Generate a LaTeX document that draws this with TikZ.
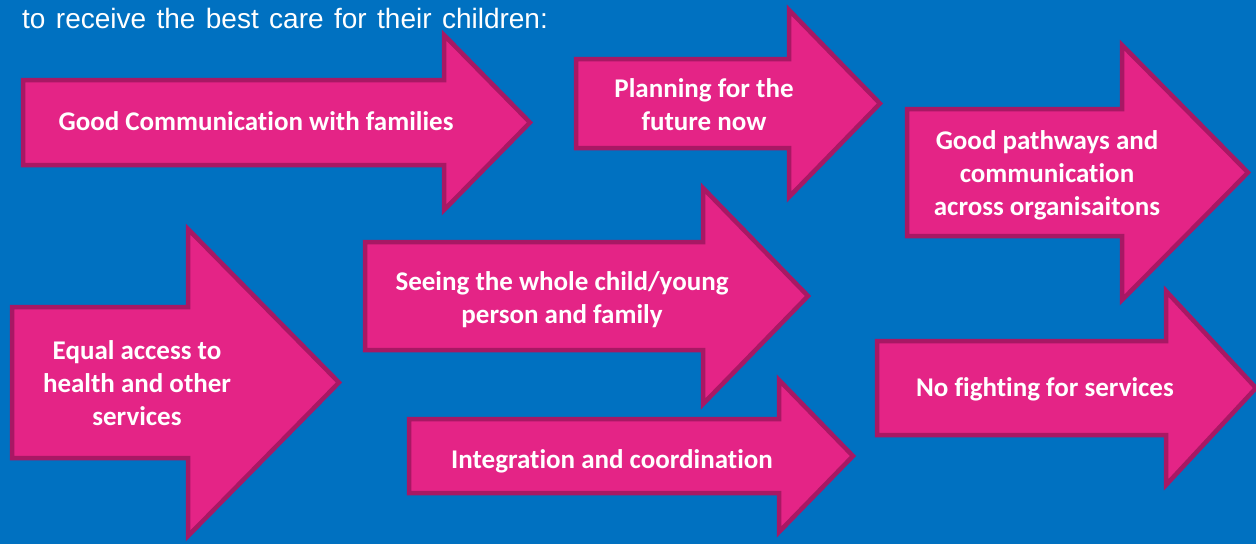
\documentclass[tikz,border=0pt]{standalone}
\usepackage{fontspec}
\setmainfont{Liberation Sans}
\newfontfamily\boxfont[Ligatures=NoCommon]{Carlito}
\definecolor{bgblue}{RGB}{0,113,193}
\definecolor{arrowpink}{RGB}{228,36,134}
\definecolor{arrowedge}{RGB}{168,24,100}

\begin{document}
\begin{tikzpicture}[x=1pt, y=-1pt,
	bigarrow/.style={fill=arrowpink, draw=arrowedge, line width=4.5pt, line join=miter},
	arrowtext/.style={text=white, align=center, inner sep=0pt,
		font=\boxfont\bfseries\fontsize{27}{33}\selectfont}]

	\useasboundingbox (0,0) rectangle (1256,544);
	\fill[bgblue] (0,0) rectangle (1256,544);

	\node[anchor=base west, inner sep=0pt, text=white,
		font=\fontsize{28}{34}\selectfont] (intro) at (22,28)
		{\spaceskip=10.4pt plus 2pt\relax to receive the best care for their children:};

	% top row
	\draw[bigarrow] (23,80) -- (444,80) -- (444,35) -- (530,122.5) -- (444,210) -- (444,165) -- (23,165) -- cycle;
	\node[arrowtext] (comm) at (256,121) {Good Communication with families};

	\draw[bigarrow] (576,59) -- (789,59) -- (789,10) -- (880,103.5) -- (789,197) -- (789,148) -- (576,148) -- cycle;
	\node[arrowtext] (plan) at (704,105) {Planning for the\\future now};

	\draw[bigarrow] (907,109) -- (1122,109) -- (1122,45) -- (1248,172.5) -- (1122,300) -- (1122,236) -- (907,236) -- cycle;
	\node[arrowtext] (path) at (1047,175) {Good pathways and\\communication\\across organisaitons};

	% lower rows
	\draw[bigarrow] (12,307) -- (188,307) -- (188,229) -- (339,382.5) -- (188,536) -- (188,458) -- (12,458) -- cycle;
	\node[arrowtext] (equal) at (137,383) {Equal access to\\health and other\\services};

	\draw[bigarrow] (365,242) -- (703,242) -- (703,188) -- (808,296) -- (703,404) -- (703,350) -- (365,350) -- cycle;
	\node[arrowtext] (whole) at (562,300) {Seeing the whole child/young\\person and family};

	\draw[bigarrow] (409,419) -- (779,419) -- (779,380) -- (853,456) -- (779,532) -- (779,493) -- (409,493) -- cycle;
	\node[arrowtext] (integ) at (612,461) {Integration and coordination};

	\draw[bigarrow] (877,341) -- (1166,341) -- (1166,291) -- (1256,388) -- (1166,485) -- (1166,435) -- (877,435) -- cycle;
	\node[arrowtext] (fight) at (1045,389) {No fighting for services};
\end{tikzpicture}
\end{document}
